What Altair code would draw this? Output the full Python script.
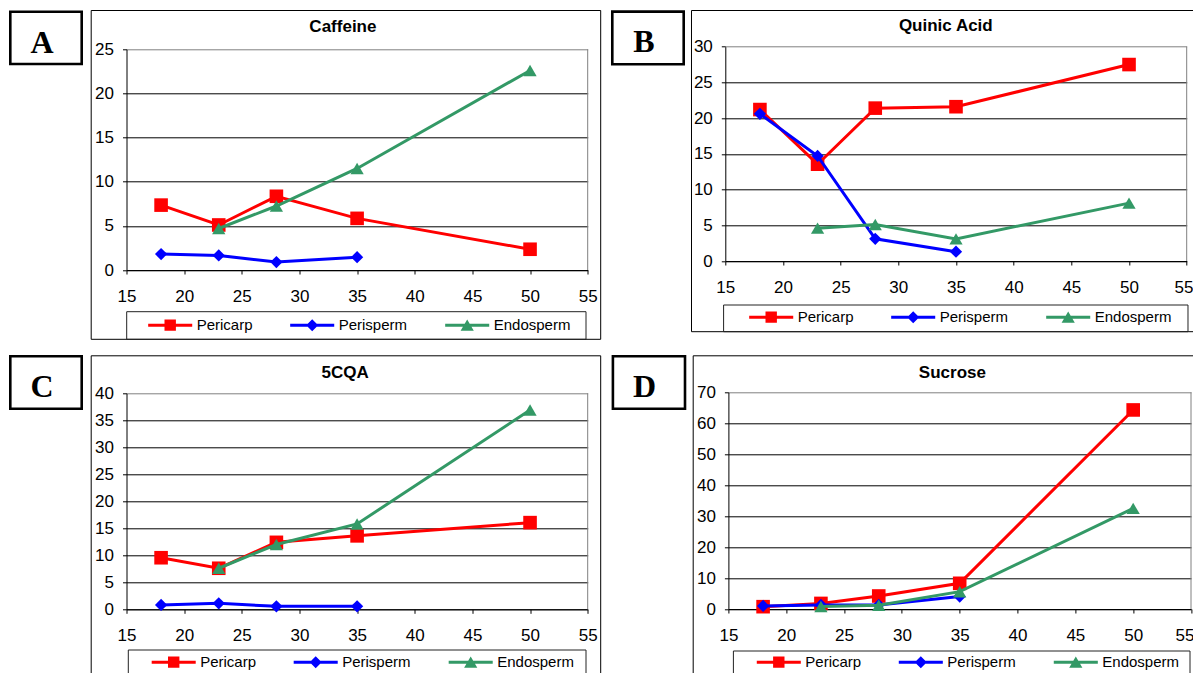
import altair as alt
import pandas as pd

# ---------------- data ----------------
temperatures = [18, 23, 28, 35, 50]
series_names = ["Pericarp", "Perisperm", "Endosperm"]

caffeine_pericarp = [7.35, 5.1, 8.35, 5.85, 2.35]
caffeine_perisperm = [1.8, 1.65, 0.9, 1.45, None]
caffeine_endosperm = [None, 4.7, 7.25, 11.5, 22.6]

quinic_pericarp = [21.2, 13.55, 21.4, 21.6, 27.5]
quinic_perisperm = [20.6, 14.7, 3.1, 1.3, None]
quinic_endosperm = [None, 4.6, 5.1, 3.1, 8.1]

cqa_pericarp = [9.55, 7.6, 12.4, 13.6, 16.05]
cqa_perisperm = [0.8, 1.1, 0.55, 0.55, None]
cqa_endosperm = [None, 7.6, 12.0, 15.8, 36.9]

sucrose_pericarp = [0.75, 1.8, 4.2, 8.3, 64.3]
sucrose_perisperm = [1.0, 1.3, 1.3, 4.0, None]
sucrose_endosperm = [None, 0.8, 1.2, 5.6, 32.5]

x_ticks = [15, 20, 25, 30, 35, 40, 45, 50, 55]
caffeine_ticks = [0, 5, 10, 15, 20, 25]
quinic_ticks = [0, 5, 10, 15, 20, 25, 30]
cqa_ticks = [0, 5, 10, 15, 20, 25, 30, 35, 40]
sucrose_ticks = [0, 10, 20, 30, 40, 50, 60, 70]

# ---------------- styles ----------------
COLORS = ["#FF0000", "#0000FF", "#339966"]
MARKERS = ["square", "diamond", "triangle-up"]
MARKER_SIZES = [185, 150, 175]
_LINE = "M-3.67,-0.25H3.67V0.25H-3.67Z"
LEGEND_PATHS = [
    _LINE + "M-0.95,-0.95H0.95V0.95H-0.95Z",
    _LINE + "M0,-1L1,0L0,1L-1,0Z",
    _LINE + "M0,-0.95L1.1,0.95H-1.1Z",
]
SANS = "Liberation Sans"
SERIF = "Liberation Serif"
GRID_GREY = "#808080"

# ---------------- layout (page pixel coordinates) ----------------
BOTTOM = 677.0
RIGHT = 1192.5
LABEL_LIMIT = 1182.4      # last x label centre must stay inside the canvas
ROW_Y = {"A": 49.3, "B": 49.3, "C": 393.3, "D": 393.3}   # shared view origin per row
GEOM = {
    "A": dict(plot=(126.5, 49.3, 587.7, 270.0), box=(9, 10.5, 83, 65.3),
              frame=(91.2, 10.5, 600.7, 339.3), legend=(126.7, 311.7, 586.0, 339.3),
              title=(342.9, 26.0), item=(146.7, 324.0)),
    "B": dict(plot=(724.3, 46.7, 1185.7, 261.0), box=(610, 10.3, 684, 65.5),
              frame=(690.5, 10.5, RIGHT, 331.7), legend=(722.6, 305.0, 1187.0, 331.7),
              title=(944.8, 25.0), item=(746.7, 316.0)),
    "C": dict(plot=(126.5, 393.3, 587.7, 609.3), box=(9, 355.0, 83, 410.0),
              frame=(91.2, 355.8, 600.7, BOTTOM), legend=(128.3, 650.0, 586.0, BOTTOM),
              title=(345.2, 371.7), item=(150.2, 661.0)),
    "D": dict(plot=(726.4, 392.3, 1189.0, 609.0), box=(609.6, 355.0, 684.3, 410.0),
              frame=(691.2, 355.8, RIGHT, BOTTOM), legend=(731.4, 651.0, 1188.0, BOTTOM),
              title=(950.4, 371.7), item=(753.3, 661.0)),
}


def panel(key, letter, title, values, yticks):
    g = GEOM[key]
    px0, ptop, px1, pbot = g["plot"]
    oy = ROW_Y[key]
    W = px1 - px0
    H = pbot - oy            # view height (bottom of plot relative to row origin)
    top_off = ptop - oy      # plot top relative to row origin

    def rx(v):
        return v - px0

    def ry(v):
        return v - oy

    ymax = yticks[-1]
    rows = []
    for name, vals in zip(series_names, values):
        for t, v in zip(temperatures, vals):
            if v is not None:
                rows.append({"Temp": t, "Value": v, "Series": name})
    df = pd.DataFrame(rows)

    last_shift = round(min(0.0, LABEL_LIMIT - px1), 2)
    xs = alt.Scale(domain=[x_ticks[0], x_ticks[-1]], nice=False, zero=False)
    ys = alt.Scale(domain=[0, ymax], range=[H, top_off], nice=False)
    xaxis = alt.Axis(values=x_ticks, grid=False, title=None, tickSize=4, labelPadding=14,
                     labelFont=SANS, labelFontSize=17, labelColor="black", tickColor="black",
                     domainColor="black", labelFlush=False, labelOverlap=False, format="d",
                     labelOffset={"condition": {"test": f"datum.value == {x_ticks[-1]}",
                                                "value": last_shift}, "value": 0})
    yaxis = alt.Axis(values=yticks, grid=True, title=None, tickSize=4, labelPadding=9,
                     labelFont=SANS, labelFontSize=17, labelColor="black", tickColor="black",
                     domainColor="black", labelFlush=False, labelOverlap=False, format="d",
                     gridColor={"condition": {"test": f"datum.value >= {ymax}", "value": GRID_GREY},
                                "value": "black"},
                     gridWidth=1)
    X = alt.X("Temp:Q", scale=xs, axis=xaxis)
    Y = alt.Y("Value:Q", scale=ys, axis=yaxis)

    one = alt.Data(values=[{"k": 0}])

    def rect(box, sw, color, inset=0.0):
        x0, y0, x1, y1 = box
        return alt.Chart(one).mark_rect(fillOpacity=0, stroke=color, strokeWidth=sw).encode(
            x=alt.value(rx(x0 + inset)), x2=alt.value(rx(x1 - inset)),
            y=alt.value(ry(y0 + inset)), y2=alt.value(ry(y1 - inset)))

    frame = rect(g["frame"], 1, "black")
    legend_box = rect(g["legend"], 1, "#222222")
    label_box = rect(g["box"], 2.6, "black", inset=1.3)
    right_edge = alt.Chart(one).mark_rule(color=GRID_GREY, strokeWidth=1).encode(
        x=alt.value(W), y=alt.value(top_off), y2=alt.value(H))
    bx0, by0 = g["box"][0], g["box"][1]
    letter_text = alt.Chart(one).mark_text(
        text=letter, font=SERIF, fontWeight="bold", fontSize=32,
        align="center", baseline="middle", color="black").encode(
        x=alt.value(rx(bx0 + 33)), y=alt.value(ry(by0 + 31 + 1)))
    title_text = alt.Chart(one).mark_text(
        text=title, font=SANS, fontWeight="bold", fontSize=17,
        align="center", baseline="middle", color="black").encode(
        x=alt.value(rx(g["title"][0])), y=alt.value(ry(g["title"][1] + 1)))

    layers = [frame, legend_box, label_box, right_edge, letter_text, title_text]
    for i, name in enumerate(series_names):
        sub = alt.Chart(df).transform_filter(alt.datum.Series == name)
        layers.append(sub.mark_line(color=COLORS[i], strokeWidth=3).encode(x=X, y=Y))
        layers.append(sub.mark_point(shape=MARKERS[i], filled=True, size=MARKER_SIZES[i],
                                     color=COLORS[i], opacity=1).encode(x=X, y=Y))

    leg = alt.Legend(orient="none", legendX=rx(g["item"][0]), legendY=ry(g["item"][1]) - 6.6,
                     direction="horizontal", title=None, labelFont=SANS, labelFontSize=15,
                     labelColor="black", symbolSize=144, symbolStrokeWidth=0,
                     symbolOffset=16, labelOffset=19, columnPadding=36, padding=0)
    legend_layer = alt.Chart(df).transform_filter("datum.Value < -1000000").mark_point(
        filled=True, opacity=1, size=144).encode(
        x=X, y=Y,
        color=alt.Color("Series:N", scale=alt.Scale(domain=series_names, range=COLORS), legend=leg),
        shape=alt.Shape("Series:N", scale=alt.Scale(domain=series_names, range=LEGEND_PATHS), legend=leg),
    )
    layers.append(legend_layer)
    return alt.layer(*layers).properties(width=W, height=H)


pA = panel("A", "A", "Caffeine", [caffeine_pericarp, caffeine_perisperm, caffeine_endosperm], caffeine_ticks)
pB = panel("B", "B", "Quinic Acid", [quinic_pericarp, quinic_perisperm, quinic_endosperm], quinic_ticks)
pC = panel("C", "C", "5CQA", [cqa_pericarp, cqa_perisperm, cqa_endosperm], cqa_ticks)
pD = panel("D", "D", "Sucrose", [sucrose_pericarp, sucrose_perisperm, sucrose_endosperm], sucrose_ticks)


def indep(c):
    return c.resolve_scale(color="independent", shape="independent").resolve_legend(
        color="independent", shape="independent")


row1 = indep(alt.hconcat(pA, pB, spacing=7.8))
row2 = indep(alt.hconcat(pC, pD, spacing=7.9))
# fixed-size canvas: the top-left plot origin sits at page (126.5, 49.3)
chart = indep(alt.vconcat(row1, row2, spacing=14)).properties(
    autosize=alt.AutoSizeParams(type="none"),
    padding={"left": 118.5, "top": 41.3, "right": 1185 - 118.5, "bottom": 673 - 41.3},
    background="white",
).configure_view(stroke="transparent")

chart.save("out.html", embed_options={"renderer": "svg", "actions": False})
